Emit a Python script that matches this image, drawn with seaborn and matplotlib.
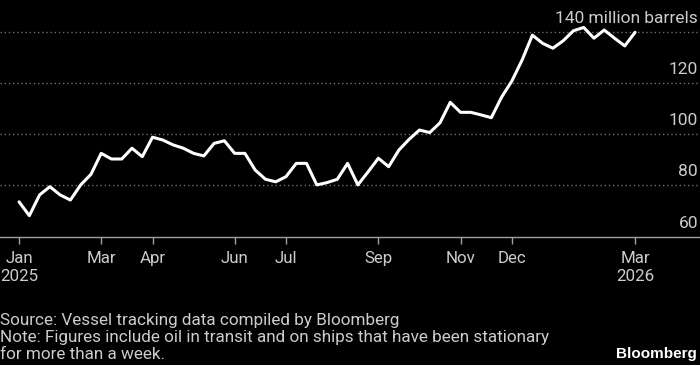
import pandas as pd
import numpy as np
import seaborn as sns
import matplotlib.pyplot as plt

# Weekly oil-on-water readings, million barrels
start = "2025-01-05"
barrels = [73.6, 68.2, 76.3, 79.5, 76.3, 74.3, 80.2, 84.3, 92.5, 90.3,
           90.3, 94.5, 91.2, 98.8, 97.7, 95.8, 94.5, 92.5, 91.5, 96.4,
           97.4, 92.5, 92.5, 86.0, 82.4, 81.4, 83.4, 88.6, 88.6, 80.2,
           81.1, 82.4, 88.6, 80.2, 85.3, 90.6, 87.3, 93.8, 98.0, 101.6,
           100.6, 104.4, 112.4, 108.5, 108.5, 107.5, 106.4, 114.4, 120.7, 128.9,
           138.6, 135.4, 133.5, 136.4, 140.3, 141.6, 137.4, 140.6, 137.4, 134.4,
           139.7]
tick_dates = ["2025-01-05", "2025-03-02", "2025-04-06", "2025-06-01", "2025-07-06",
              "2025-09-07", "2025-11-02", "2025-12-07", "2026-03-01"]
tick_labels = ["Jan\n2025", "Mar", "Apr", "Jun", "Jul", "Sep", "Nov", "Dec", "Mar\n2026"]
y_ticks = [60, 80, 100, 120, 140]
y_labels = ["60", "80", "100", "120", "140 million barrels"]

df = pd.DataFrame({"date": pd.date_range(start, periods=len(barrels), freq="7D"),
                   "barrels": barrels})

sns.set_style("dark")
plt.rcParams["font.family"] = ["Roboto", "DejaVu Sans"]

fig = plt.figure(figsize=(7, 3.65), dpi=100, facecolor="black")
ax = fig.add_axes([0, 128.3 / 365, 1, 236.7 / 365])
ax.set_facecolor("black")

sns.lineplot(data=df, x="date", y="barrels", color="white", linewidth=2.2, ax=ax)

ax.set_xlim(pd.Timestamp(start) - pd.Timedelta(days=13), pd.Timestamp("2026-03-01") + pd.Timedelta(days=44.3))
ax.set_ylim(60, 152.3)

# dotted gridlines, solid baseline
for v in y_ticks[1:]:
    ax.axhline(v, color="#707070", linewidth=1, linestyle=(0, (1, 2)), zorder=0)
for side in ["top", "right", "left"]:
    ax.spines[side].set_visible(False)
ax.spines["bottom"].set_visible(True)
ax.spines["bottom"].set_color("#a0a0a0")
ax.spines["bottom"].set_linewidth(1)
ax.grid(False)

ax.set_yticks([])
for v, lab in zip(y_ticks, y_labels):
    ax.annotate(lab, xy=(1, v), xycoords=("axes fraction", "data"), xytext=(-1.5, 6.5),
                textcoords="offset points", ha="right", va="baseline",
                color="#cccccc", fontsize=12.5)

ax.set_xticks(pd.to_datetime(tick_dates))
ax.set_xticklabels(tick_labels)
ax.tick_params(axis="x", bottom=True, direction="out", colors="#a0a0a0", length=5, width=1,
               pad=5.5, labelcolor="#cccccc", labelsize=12.2)
for t in ax.get_xticklabels():
    t.set_linespacing(1.25)
ax.set_xlabel("")
ax.set_ylabel("")

foot = "#cccccc"
fig.text(0, 1 - 325 / 365, "Source: Vessel tracking data compiled by Bloomberg", color=foot,
         fontsize=12.3, ha="left", va="baseline")
fig.text(0, 1 - 342 / 365, "Note: Figures include oil in transit and on ships that have been stationary",
         color=foot, fontsize=12.3, ha="left", va="baseline")
fig.text(0, 1 - 359 / 365, "for more than a week.", color=foot, fontsize=12.3, ha="left", va="baseline")
fig.text(697 / 700, 1 - 358 / 365, "Bloomberg", color="white", fontsize=11, fontweight="bold",
         family="Liberation Sans", ha="right", va="baseline")

fig.savefig("out.png", dpi=100, facecolor="black")
